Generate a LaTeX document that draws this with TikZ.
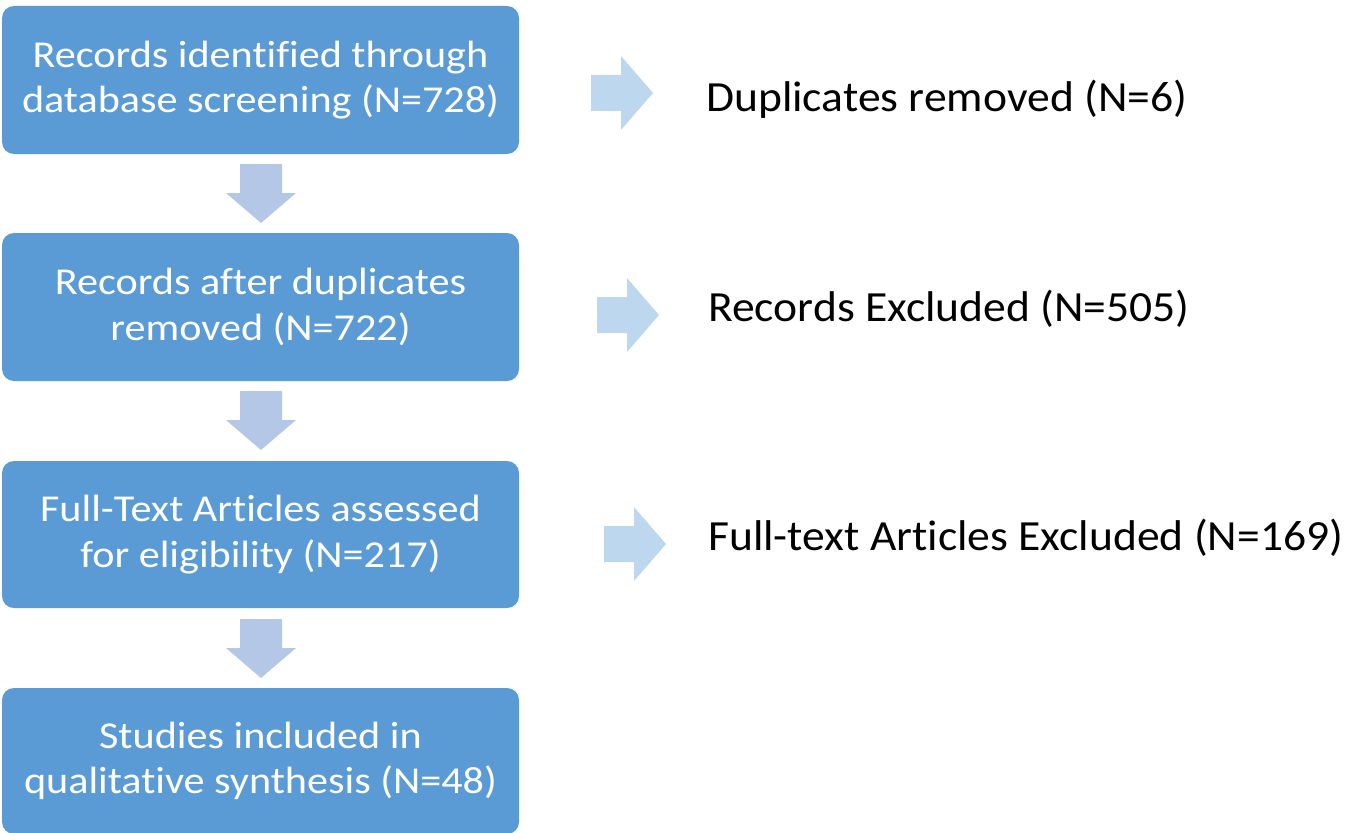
\documentclass[tikz,border=0pt]{standalone}
\usepackage{fontspec}
\setmainfont[Ligatures=NoCommon]{Carlito}
\newfontfamily\boxfont[Ligatures=NoCommon,FakeStretch=1.11]{Carlito}
\newfontfamily\sidefont[Ligatures=NoCommon,FakeStretch=1.06]{Carlito}
\definecolor{boxblue}{HTML}{5B9BD5}
\definecolor{downblue}{HTML}{B4C7E7}
\definecolor{rightblue}{HTML}{BDD7EE}
\begin{document}
\begin{tikzpicture}[x=1pt,y=-1pt,
  stepbox/.style={fill=boxblue, rounded corners=12pt, minimum width=517pt,
    text=white, align=center, font=\boxfont\fontsize{38}{45.6}\selectfont, inner sep=0pt},
  sidetext/.style={anchor=base west, text=black, inner sep=0pt,
    font=\sidefont\fontsize{43}{50}\selectfont},
  darrow/.pic={\fill[downblue] (-21,0) -- (21,0) -- (21,29) -- (35,29) -- (0,59)
      -- (-35,29) -- (-21,29) -- cycle;},
  rarrow/.pic={\fill[rightblue] (0,-18) -- (30,-18) -- (30,-37) -- (62,0)
      -- (30,37) -- (30,18) -- (0,18) -- cycle;}
]
\useasboundingbox (0,0) rectangle (1348,832);

\node[stepbox, minimum height=148pt] (b1) at (260.5,80)
  {Records identified through\\database screening (N=728)};
\node[stepbox, minimum height=148pt] (b2) at (260.5,307)
  {Records after duplicates\\removed (N=722)};
\node[stepbox, minimum height=147pt] (b3) at (260.5,534.5)
  {Full-Text Articles assessed\\for eligibility (N=217)};
\node[stepbox, minimum height=146pt] (b4) at (260.5,761)
  {Studies included in\\qualitative synthesis (N=48)};

\pic at (261,164) {darrow};
\pic at (261,391) {darrow};
\pic at (261,619) {darrow};

\pic at (591,93) {rarrow};
\pic at (597,315) {rarrow};
\pic at (604,544) {rarrow};

\node[sidetext] (s1) at (706,111) {Duplicates removed (N=6)};
\node[sidetext] (s2) at (708,321) {Records Excluded (N=505)};
\node[sidetext] (s3) at (708,550) {Full-text Articles Excluded (N=169)};
\end{tikzpicture}
\end{document}
